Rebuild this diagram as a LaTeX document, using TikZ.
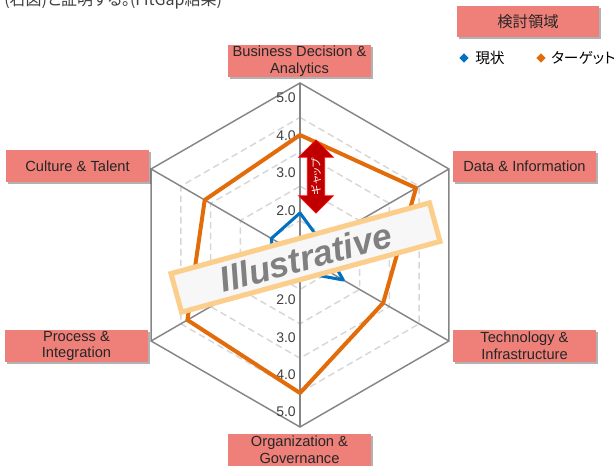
\documentclass[tikz,border=0pt]{standalone}
\usepackage{fontspec}
\setmainfont{Liberation Sans}
\newfontfamily\jp[RawFeature=+palt]{Noto Sans CJK JP}
\usetikzlibrary{shapes.geometric,shapes.arrows,shadows}

\definecolor{salmon}{RGB}{238,128,121}
\definecolor{target}{RGB}{226,107,10}
\definecolor{current}{RGB}{0,112,192}
\definecolor{axisgray}{RGB}{134,134,134}
\definecolor{gridgray}{RGB}{215,215,215}
\definecolor{gapred}{RGB}{192,0,0}
\definecolor{stampor}{RGB}{251,206,140}

\tikzset{
  lbl/.style={fill=salmon,minimum width=107pt,minimum height=23.5pt,inner sep=0pt,
    align=center,text=black!85,font=\fontsize{11}{12.5}\selectfont,
    drop shadow={shadow xshift=1.5pt,shadow yshift=-1.5pt,opacity=.3,fill=black}},
  tick/.style={anchor=east,inner sep=0pt,text=black!75,font=\fontsize{10.5}{11}\selectfont},
  gap/.style={double arrow,rotate=90,fill=gapred,draw=red,line width=.6pt,
    minimum height=55pt,minimum width=26pt,double arrow head extend=5pt,
    double arrow tip angle=90,inner sep=1pt,text=white,font=\jp\fontsize{8}{8}\selectfont},
  stamp/.style={rotate=15.3,draw=stampor,line width=3.8pt,fill=white!97!black,
    minimum width=201pt,minimum height=30pt,inner sep=0pt,text=black!50,
    font=\bfseries\itshape\fontsize{26.5}{26.5}\selectfont},
  legendmark/.style={diamond,inner sep=0pt,minimum size=7pt}
}

\begin{document}
\begin{tikzpicture}[x=0.75pt,y=0.75pt]
  \useasboundingbox (-300,-211) rectangle (314,255);

  % grid rings
  \foreach \r in {34.4,68.8,103.2,137.6}
    \draw[gridgray,line width=1.1pt,dash pattern=on 5pt off 3pt]
      (90:\r) -- (30:\r) -- (-30:\r) -- (-90:\r) -- (-150:\r) -- (150:\r) -- cycle;
  \draw[axisgray,line width=1.1pt]
    (90:172) -- (30:172) -- (-30:172) -- (-90:172) -- (-150:172) -- (150:172) -- cycle;

  % spokes
  \coordinate (c) at (0,0);
  \foreach \a/\n in {90/bda,30/dat,-30/tec,-90/org,-150/pro,150/cul}
    \coordinate (\n) at (\a:172);
  \foreach \n in {bda,dat,tec,org,pro,cul}
    \draw[axisgray,line width=1.1pt] (c) -- (\n);

  % scale
  \foreach \v [count=\i from 0] in {5.0,4.0,3.0,2.0} {
    \node[tick] at (-4,157-37.4*\i) {\v};
    \node[tick] at (-4,-157+37.4*\i) {\v};
  }

  % target and current
  \draw[target,line width=3pt,line join=round]
    (90:120) -- (30:134) -- (-30:96) -- (-90:138) -- (-150:130) -- (150:110) -- cycle;
  \draw[current,line width=2.3pt,line join=round]
    (90:42) -- (30:25) -- (-30:50) -- (-90:17) -- (-150:30) -- (150:33) -- cycle;

  \node[gap] (gap) at (16,78.5) {ギャップ};

  \node[stamp] (ill) at (5.5,-2.5) {Illustrative};

  % axis labels
  \begin{scope}[every node/.style={lbl}]
    \node (l1) at (-0.5,194)   {Business Decision \&\\Analytics};
    \node (l2) at (224.5,88.5) {Data \& Information};
    \node (l3) at (224.5,-91)  {Technology \&\\Infrastructure};
    \node (l4) at (-0.5,-195)  {Organization \&\\Governance};
    \node (l5) at (-223.5,-91) {Process \&\\Integration};
    \node (l6) at (-222.5,89)  {Culture \& Talent};
    \node[font=\jp\fontsize{11.5}{12}\selectfont] (area) at (228,233.5) {検討領域};
  \end{scope}

  % legend
  \node[legendmark,fill=current] (m1) at (164,197) {};
  \node[anchor=west,inner sep=0pt,font=\jp\fontsize{11}{12}\selectfont] (t1) at (175,197) {現状};
  \node[legendmark,fill=target] (m2) at (241,197) {};
  \node[anchor=west,inner sep=0pt,font=\jp\fontsize{11}{12}\selectfont] (t2) at (251,197) {ターゲット};

  \node[anchor=west,inner sep=0pt,text=black!75,font=\jp\fontsize{12}{12}\selectfont] (note)
    at (-296,254) {(右図)と証明する。(FitGap結果)};

\end{tikzpicture}
\end{document}
